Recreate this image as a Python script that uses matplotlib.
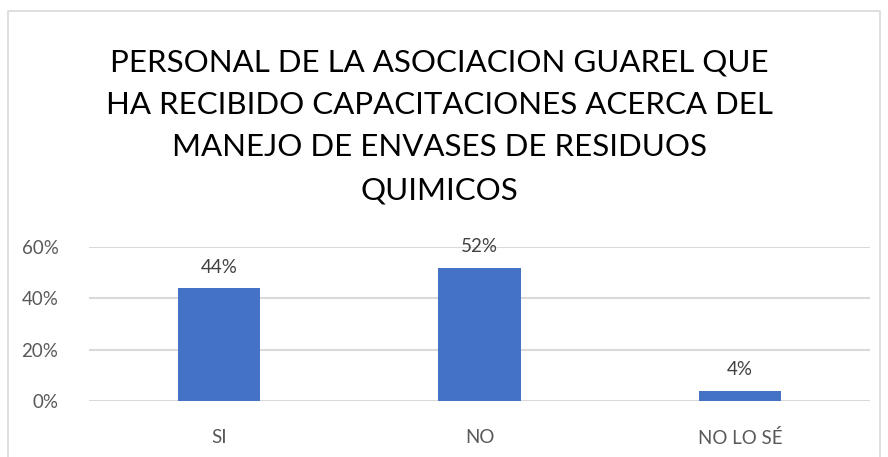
import matplotlib.pyplot as plt
from matplotlib.patches import Rectangle

categorias = ['SI', 'NO', 'NO LO SÉ']
valores = [0.44, 0.52, 0.04]
etiquetas = ['44%', '52%', '4%']
yticks = [0, 0.2, 0.4, 0.6]
ytick_labels = ['0%', '20%', '40%', '60%']
titulo = ('PERSONAL DE LA ASOCIACION GUAREL QUE\n'
          'HA RECIBIDO CAPACITACIONES ACERCA DEL\n'
          'MANEJO DE ENVASES DE RESIDUOS\n'
          'QUIMICOS')

plt.rcParams['font.family'] = ['Lato', 'DejaVu Sans']

W, H = 888, 457
fig = plt.figure(figsize=(W / 100, H / 100), dpi=100)

# chart border
fig.patches.append(Rectangle((8 / W, -0.05), (880 - 8) / W, 1.05 - 11 / H,
                             transform=fig.transFigure, fill=False,
                             edgecolor='#d9d9d9', lw=1.2))

ax = fig.add_axes([89 / W, 1 - 401 / H, (870 - 89) / W, (401 - 247) / H])
x = range(len(categorias))
ax.bar(x, valores, width=0.315, color='#4472c4', zorder=3)
for i, v in enumerate(valores):
    ax.annotate(etiquetas[i], (i, v), xytext=(0, 9), textcoords='offset points',
                ha='center', va='bottom', fontsize=13.5, color='#404040')

ax.set_xlim(-0.5, 2.5)
ax.set_ylim(0, 0.6)
ax.set_yticks(yticks)
ax.set_yticklabels(ytick_labels, fontsize=13.5, color='#595959')
ax.set_xticks(list(x))
ax.set_xticklabels(categorias, fontsize=13.5, color='#595959')
ax.tick_params(length=0)
ax.tick_params(axis='x', pad=20)
ax.tick_params(axis='y', pad=22)
ax.yaxis.grid(True, color='#d9d9d9', lw=1.5, zorder=0)
for s in ax.spines.values():
    s.set_visible(False)

fig.text(439 / W, 1 - 48 / H, titulo, ha='center', va='top', fontsize=22.5,
         color='black', linespacing=1.64)

fig.savefig('out.png', dpi=100)
